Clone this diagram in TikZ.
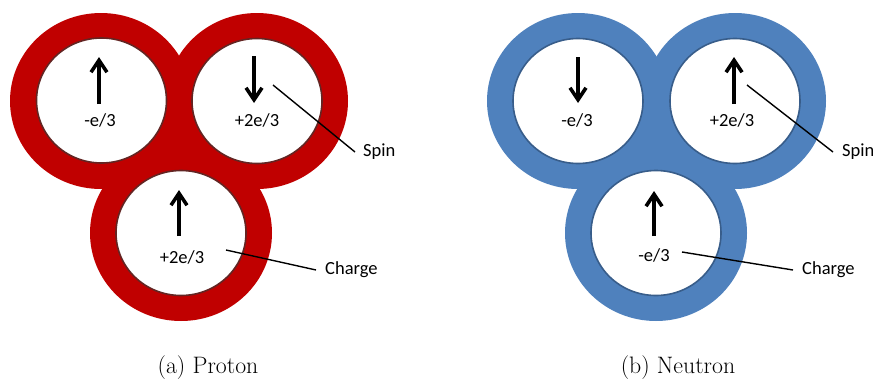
\documentclass[tikz,border=0pt]{standalone}
\usepackage{fontspec}
\newfontfamily\lbl{Carlito}
\usetikzlibrary{arrows.meta,shapes.geometric}
\definecolor{pred}{HTML}{C00000}
\definecolor{predline}{HTML}{632523}
\definecolor{nblue}{HTML}{4F81BD}
\definecolor{nblueline}{HTML}{385D8A}
\begin{document}
\begin{tikzpicture}[x=1pt,y=-1pt,
  quark/.style={ellipse,draw=#1,line width=1.6pt,fill=white,minimum width=130pt,minimum height=125pt,inner sep=0pt},
  qtext/.style={font=\lbl\fontsize{18.5}{21}\selectfont,inner sep=0pt},
  tagtext/.style={font=\lbl\fontsize{18.5}{21}\selectfont,inner sep=0pt,anchor=west},
  spinarrow/.style={line width=3.6pt,-{Straight Barb[length=12pt,width=16pt]}},
  leader/.style={line width=1.4pt},
  captext/.style={font=\fontsize{23.8}{28}\selectfont,inner sep=0pt,anchor=base},
  ]
\useasboundingbox (0,0) rectangle (873,378);

% ---------- Proton ----------
\begin{scope}
\fill[pred] (101,101) ellipse [x radius=91pt, y radius=88pt];
\fill[pred] (257,101) ellipse [x radius=91pt, y radius=88pt];
\fill[pred] (181,233) ellipse [x radius=91pt, y radius=88pt];
\fill[pred] (101,101) -- (257,101) -- (181,233) -- cycle;
\node[quark=predline] (p1) at (101.5,100.5) {};
\node[quark=predline] (p2) at (257,101) {};
\node[quark=predline] (p3) at (181,233) {};
\node[qtext] (p1t) at (100,120) {-e/3};
\node[qtext] (p2t) at (257,120) {+2e/3};
\node[qtext] (p3t) at (182,257) {+2e/3};
\coordinate (p1a) at (99,104); \coordinate (p1b) at (99,57);
\coordinate (p2a) at (254,56); \coordinate (p2b) at (254,103);
\coordinate (p3a) at (179,236); \coordinate (p3b) at (179,190);
\draw[spinarrow] (p1a) -- (p1b);
\draw[spinarrow] (p2a) -- (p2b);
\draw[spinarrow] (p3a) -- (p3b);
\node[tagtext] (pspin) at (363,152) {Spin};
\node[tagtext] (pcharge) at (325,270) {Charge};
\coordinate (psf) at (273,85);
\coordinate (pcf) at (226,250);
\draw[leader] (psf) -- ([xshift=-8pt]pspin.west);
\draw[leader] (pcf) -- ([xshift=-9pt]pcharge.west);
\node[captext] (pcap) at (208,373) {(a) Proton};
\end{scope}

% ---------- Neutron ----------
\begin{scope}
\fill[nblue] (578,101) ellipse [x radius=91pt, y radius=88pt];
\fill[nblue] (735,101) ellipse [x radius=91pt, y radius=88pt];
\fill[nblue] (656,233) ellipse [x radius=91pt, y radius=88pt];
\fill[nblue] (578,101) -- (735,101) -- (656,233) -- cycle;
\node[quark=nblueline] (n1) at (578,101) {};
\node[quark=nblueline] (n2) at (735,101) {};
\node[quark=nblueline] (n3) at (656,233) {};
\node[qtext] (n1t) at (577,120) {-e/3};
\node[qtext] (n2t) at (732,120) {+2e/3};
\node[qtext] (n3t) at (654,255) {-e/3};
\coordinate (n1a) at (578,57); \coordinate (n1b) at (578,103);
\coordinate (n2a) at (734,104); \coordinate (n2b) at (734,57);
\coordinate (n3a) at (654,236); \coordinate (n3b) at (654,191);
\draw[spinarrow] (n1a) -- (n1b);
\draw[spinarrow] (n2a) -- (n2b);
\draw[spinarrow] (n3a) -- (n3b);
\node[tagtext] (nspin) at (842,152) {Spin};
\node[tagtext] (ncharge) at (802,270) {Charge};
\coordinate (nsf) at (747,85);
\coordinate (ncf) at (682,252);
\draw[leader] (nsf) -- ([xshift=-9pt]nspin.west);
\draw[leader] (ncf) -- ([xshift=-9pt]ncharge.west);
\node[captext] (ncap) at (678,373) {(b) Neutron};
\end{scope}
\end{tikzpicture}
\end{document}
